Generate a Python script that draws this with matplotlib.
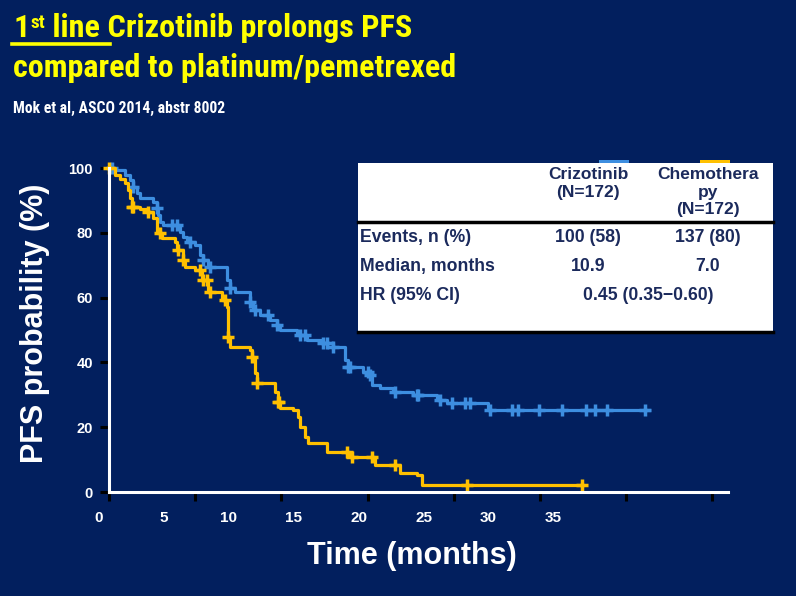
import matplotlib.pyplot as plt
import numpy as np
from matplotlib import font_manager
from matplotlib.patches import Rectangle
from matplotlib.lines import Line2D
from matplotlib.text import Annotation

W, H = 796, 596

# Kaplan-Meier knots (months, PFS %)
crizo_t = [0, 0.35, 0.93, 1.22, 1.39, 1.62, 1.8, 2.55, 2.78, 2.84, 2.95, 3.13, 4.11, 4.29,
           4.52, 4.98, 5.27, 5.45, 5.74, 6.84, 7.01, 7.3, 8.17, 8.34, 8.75, 9.33, 9.73,
           9.91, 10.89, 11.47, 12.4, 12.98, 13.67, 13.85, 14.72, 15.12, 15.24, 15.7, 16.45,
           17.61, 19.0, 19.58, 21.96, 31.3]
crizo_s = [100, 99.4, 97.8, 96.3, 94.1, 92.3, 90.7, 89.5, 87.7, 85.5, 83.3, 82.4, 80.2, 78.7,
           77.2, 76.2, 73.1, 71.6, 69.4, 65.4, 63.0, 61.7, 58.6, 56.2, 54.6, 53.1, 51.5,
           50.0, 48.5, 46.9, 46.0, 44.8, 40.7, 38.6, 37.0, 36.1, 33.0, 32.1, 30.9,
           29.9, 28.4, 27.5, 25.3, 25.3]
crizo_cens = [0.17, 1.39, 2.78, 3.65, 3.94, 4.69, 5.45, 5.85, 7.01, 8.17, 8.46, 9.21, 9.73,
              11.07, 11.36, 12.4, 12.63, 12.98, 13.85, 13.96, 15.0, 15.12, 16.57, 17.84,
              17.9, 19.18, 19.87, 20.63, 20.92, 22.07, 23.35, 23.7, 24.91, 26.3, 27.69,
              28.16, 28.91, 31.11]

chemo_t = [0, 0.35, 0.64, 0.93, 1.1, 1.2, 1.33, 1.8, 2.26, 2.55, 2.78, 3.07, 3.82, 3.94,
           4.29, 4.4, 4.98, 5.39, 5.74, 6.55, 6.84, 6.9, 7.0, 8.17, 8.29, 8.46, 8.57, 9.62,
           9.79, 9.91, 10.66, 10.95, 11.07, 11.36, 11.53, 12.63, 13.96, 15.41, 16.86, 17.84,
           18.13, 27.46]
chemo_s = [100, 97.8, 96.6, 95.4, 93.2, 90.7, 88.0, 87.3, 86.4, 84.6, 80.0, 78.4, 77.2, 74.7,
           71.6, 69.4, 68.5, 65.4, 61.7, 59.3, 57.1, 47.8, 44.8, 43.8, 41.7, 36.7, 33.6, 30.9,
           27.8, 25.9, 25.3, 23.1, 20.1, 17.0, 15.1, 12.3, 10.8, 8.3, 5.9, 5.2,
           2.2, 2.2]
chemo_cens = [0, 1.33, 1.39, 2.26, 2.95, 3.99, 4.29, 5.27, 5.45, 5.68, 5.85, 6.72, 6.9, 8.29,
              8.57, 9.79, 9.85, 13.79, 14.08, 15.24, 16.57, 20.74, 27.46]

x_ticks = [0, 5, 10, 15, 20, 25, 30, 35]
x_labels = [0, 5, 10, 15, 20, 25, 30, 35]
y_ticks = [0, 20, 40, 60, 80, 100]

arm_names = ['Crizotinib\n(N=172)', 'Chemothera\npy\n(N=172)']
row_names = ['Events, n (%)', 'Median, months', 'HR (95% CI)']
crizo_vals = ['100 (58)', '10.9']
chemo_vals = ['137 (80)', '7.0']
hr_text = '0.45 (0.35\u22120.60)'

BG = '#021f5e'
BLUE = '#3d8ee0'
GOLD = '#ffc000'
NAVY = '#1b2a5c'
YEL = '#ffff00'


def fx(x):
    return x / W


def fy(y):
    return 1 - y / H


def step_at(t, s, c):
    idx = np.searchsorted(t, c, side='right') - 1
    return np.asarray(s)[idx]


def label_pos(v):
    # slide labels: px = 99 + 13*v ; tick marks: px = 109 + 17.26*m
    return (13 * v - 10) / 17.26


installed = {f.name for f in font_manager.fontManager.ttflist}
narrow = 'Liberation Sans'
for cand in ['Liberation Sans Narrow', 'Roboto Condensed', 'Noto Sans Condensed',
             'Open Sans Condensed']:
    if cand in installed:
        narrow = cand
        break

plt.rcParams['font.family'] = ['Liberation Sans', 'DejaVu Sans']
fig = plt.figure(figsize=(W / 100, H / 100), dpi=100, facecolor=BG)

# plot area: months 0..35.9 between px 109 and 728, % 0..100 between px 492 and 168
ax = fig.add_axes([fx(109), fy(492), fx(728) - fx(109), fy(168) - fy(492)])
ax.set_facecolor(BG)
ax.set_xlim(0, 35.9)
ax.set_ylim(0, 100)

ax.plot(crizo_t, crizo_s, drawstyle='steps-post', color=BLUE, lw=2.3, clip_on=False)
ax.plot(crizo_cens, step_at(crizo_t, crizo_s, crizo_cens), '+', color=BLUE,
        ms=9, mew=2.5, clip_on=False)
ax.plot(chemo_t, chemo_s, drawstyle='steps-post', color=GOLD, lw=2.3, clip_on=False)
ax.plot(chemo_cens, step_at(chemo_t, chemo_s, chemo_cens), '+', color=GOLD,
        ms=9, mew=2.5, clip_on=False)

for side in ['top', 'right']:
    ax.spines[side].set_visible(False)
for side in ['left', 'bottom']:
    ax.spines[side].set_color('white')
    ax.spines[side].set_linewidth(2.2)

ax.set_yticks(y_ticks)
ax.tick_params(axis='y', colors='black', length=6.5, width=2.2, pad=5,
               labelcolor='white', labelsize=10.5)
for lab in ax.get_yticklabels():
    lab.set_fontweight('bold')

ax.set_xticks(x_ticks)
ax.tick_params(axis='x', colors='black', length=6.5, width=2.2, labelbottom=False)

# month labels sit on a tighter spacing than the tick marks on the slide
for v in x_labels:
    ax.text(label_pos(v), -0.08, str(v), transform=ax.get_xaxis_transform(),
            color='white', fontsize=11, fontweight='bold', ha='center', va='center',
            clip_on=False)

fig.text(fx(35), fy(323), 'PFS probability (%)', rotation=90, color='white',
         fontsize=22, fontweight='bold', ha='center', va='center')
fig.text(fx(412), fy(556), 'Time (months)', color='white',
         fontsize=22, fontweight='bold', ha='center', va='center')

# title; the slide font is condensed, so fit the second line to its width
tfont = dict(family=[narrow, 'Liberation Sans'], fontweight='bold', color=YEL)
line2 = fig.text(fx(13), fy(77), 'compared to platinum/pemetrexed', fontsize=27,
                 va='baseline', **tfont)
sub = fig.text(fx(13), fy(113), 'Mok et al, ASCO 2014, abstr 8002', fontsize=14,
               va='baseline', family=[narrow, 'Liberation Sans'], fontweight='bold',
               color='white')
fig.canvas.draw()
tsize = min(27, 27 * 445 / line2.get_window_extent().width)
line2.set_fontsize(tsize)
sub.set_fontsize(min(14, 14 * 212 / sub.get_window_extent().width))

t1 = fig.text(fx(14), fy(37), '1', fontsize=tsize, va='baseline', **tfont)
t2 = Annotation('st', xy=(1.02, 0.97), xycoords=t1, fontsize=tsize * 0.6, va='top',
                ha='left', annotation_clip=False, **tfont)
fig.add_artist(t2)
t3 = Annotation(' line', xy=(1, 0), xycoords=(t2, t1), fontsize=tsize, va='bottom',
                ha='left', annotation_clip=False, **tfont)
fig.add_artist(t3)
t4 = Annotation(' Crizotinib prolongs PFS', xy=(1, 0), xycoords=(t3, t1), fontsize=tsize,
                va='bottom', ha='left', annotation_clip=False, **tfont)
fig.add_artist(t4)

fig.canvas.draw()
rend = fig.canvas.get_renderer()
b1 = t1.get_window_extent(rend)
b4 = t4.get_window_extent(rend)
space_w = 0.3 * tsize * 100 / 72
ul_y = fy(37) - 6.5 / H
fig.add_artist(Line2D([(b1.x0 - 2) / W, (b4.x0 + space_w) / W], [ul_y, ul_y],
                      color=YEL, lw=2.6))

# results table
fig.add_artist(Rectangle((fx(599), fy(165)), fx(30), fy(160) - fy(165), color=BLUE, lw=0))
fig.add_artist(Rectangle((fx(700), fy(165)), fx(30), fy(160) - fy(165), color=GOLD, lw=0))
fig.add_artist(Rectangle((fx(358), fy(333)), fx(773) - fx(358), fy(163) - fy(333),
                         facecolor='white', edgecolor='none'))
fig.add_artist(Line2D([fx(358), fx(773)], [fy(222), fy(222)], color='black', lw=2.5))
fig.add_artist(Line2D([fx(358), fx(773)], [fy(332), fy(332)], color='black', lw=2.5))

cfont = dict(color=NAVY, fontsize=12.5, fontweight='bold', ha='center', va='top',
             linespacing=1.22)
fig.text(fx(588), fy(167), arm_names[0], **cfont)
fig.text(fx(708), fy(167), arm_names[1], **cfont)

row_y = [238, 266, 296]
for name, y in zip(row_names, row_y):
    fig.text(fx(360), fy(y), name, color=NAVY, fontsize=12.7, fontweight='bold',
             ha='left', va='center')
for val, y in zip(crizo_vals, row_y):
    fig.text(fx(588), fy(y), val, color=NAVY, fontsize=12.7, fontweight='bold',
             ha='center', va='center')
for val, y in zip(chemo_vals, row_y):
    fig.text(fx(708), fy(y), val, color=NAVY, fontsize=12.7, fontweight='bold',
             ha='center', va='center')
fig.text(fx(648), fy(row_y[2]), hr_text, color=NAVY, fontsize=12.7, fontweight='bold',
         ha='center', va='center')

fig.savefig('out.png', dpi=100, facecolor=BG)
